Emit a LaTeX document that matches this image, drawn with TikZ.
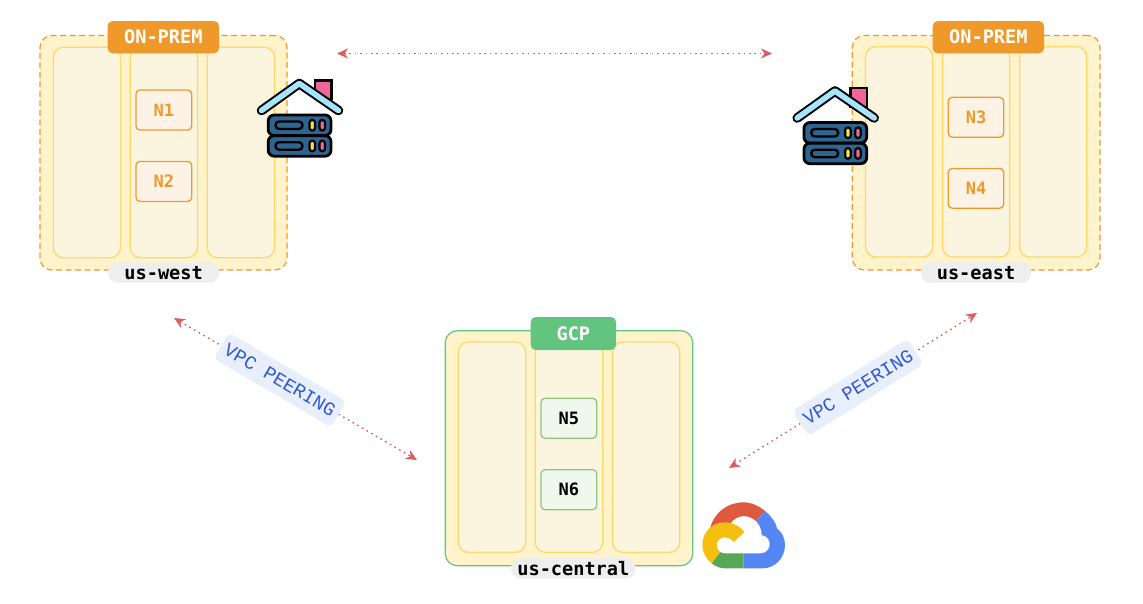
\documentclass[tikz,border=0pt]{standalone}
\usepackage{fontspec}
\usetikzlibrary{arrows.meta}
\setmainfont{DejaVu Sans}
\newfontfamily\monob{DejaVu Sans Mono}[BoldFont={DejaVu Sans Mono Bold}]
\newfontfamily\monot{Liberation Mono}
\definecolor{orangeC}{HTML}{F0992B}
\definecolor{greenC}{HTML}{63C480}
\definecolor{outerfill}{HTML}{FFF3CC}
\definecolor{colfill}{HTML}{FBF5E0}
\definecolor{colline}{HTML}{FFD966}
\definecolor{pill}{HTML}{EEEEEE}
\definecolor{peerline}{HTML}{D8605C}
\definecolor{peerfill}{HTML}{E8EEFB}
\definecolor{peertext}{HTML}{2F5BD0}
\definecolor{srv}{HTML}{2D6490}
\definecolor{roofC}{HTML}{A6E3FD}
\definecolor{pinkC}{HTML}{F2659A}
\definecolor{yelC}{HTML}{F7E34B}
\definecolor{nGline}{HTML}{93C47D}
\definecolor{nGfill}{HTML}{F0F7EC}
\definecolor{nOfill}{HTML}{FCF3E6}
\tikzset{
  bx/.style={rectangle,inner sep=0pt,outer sep=0pt},
  outerdash/.style={bx,draw=orangeC,fill=outerfill,rounded corners=12pt,line width=1.2pt,dash pattern=on 6pt off 3.5pt},
  outersolid/.style={bx,draw=greenC,fill=outerfill,rounded corners=12pt,line width=1.2pt},
  column/.style={bx,draw=colline,fill=colfill,rounded corners=10pt,line width=1.3pt},
  nodeO/.style={bx,draw=orangeC,fill=nOfill,rounded corners=4pt,line width=1.3pt,text=orangeC,font=\monob\bfseries\fontsize{17}{18}\selectfont},
  nodeG/.style={bx,draw=nGline,fill=nGfill,rounded corners=4pt,line width=1.3pt,text=black,font=\monob\bfseries\fontsize{17}{18}\selectfont},
  tagbox/.style={bx,rounded corners=5pt,text=white,font=\monob\bfseries\fontsize{18.6}{20}\selectfont},
  pillbox/.style={bx,fill=pill,rounded corners=10pt,text=black,font=\monob\bfseries\fontsize{18.6}{20}\selectfont},
  peer/.style={draw=peerline,line width=1.4pt,dash pattern=on 1.6pt off 3.8pt,
    {Stealth[length=11pt,width=10pt,inset=3.5pt,fill=peerline]}-{Stealth[length=11pt,width=10pt,inset=3.5pt,fill=peerline]}},
  peerlabel/.style={rectangle,sloped,fill=peerfill,rounded corners=5pt,inner sep=0pt,minimum width=136pt,minimum height=30pt,text=peertext,font=\monot\fontsize{19}{20}\selectfont},
}
\newcommand{\bxt}[7]{\node[#1,minimum width={(#4)-(#2)},minimum height={(#5)-(#3)}] (#6) at ({((#2)+(#4))/2},{((#3)+(#5))/2}) {\vphantom{A}#7};}
\newcommand{\houseicon}[2]{%
  \begin{scope}[shift={(#1,#2)}]
    \draw[fill=pinkC,draw=black,line width=2.6pt] (314.8,100) -- (314.8,80.5) -- (331.2,80.5) -- (331.2,100);
    \draw[black,line width=9.6pt,line cap=round,line join=round] (261.5,110.5) -- (299.3,83.5) -- (338.5,110.5);
    \draw[roofC,line width=5.6pt,line cap=round,line join=round] (261.5,110.5) -- (299.3,83.5) -- (338.5,110.5);
    \foreach \yy in {115,135.7}{
      \draw[fill=srv,draw=black,line width=2.8pt,rounded corners=6pt] (268.2,\yy) rectangle (331,\yy+20.5);
      \draw[fill=srv,draw=black,line width=2.4pt,rounded corners=3.6pt] (275.5,\yy+6.5) rectangle (302.5,\yy+14);
      \draw[fill=yelC,draw=black,line width=2.2pt,rounded corners=2.6pt] (309.5,\yy+5) rectangle (315,\yy+15.5);
      \draw[fill=pinkC,draw=black,line width=2.2pt,rounded corners=2.6pt] (319.5,\yy+5) rectangle (325,\yy+15.5);
    }
  \end{scope}}
\begin{document}
\begin{tikzpicture}[x=1pt,y=-1pt]
\useasboundingbox[fill=white] (0,0) rectangle (1143,603);
% west
\bxt{outerdash}{40}{35.5}{287}{270}{westout}{}
\bxt{column}{53.3}{47.3}{120.5}{257.7}{w1}{}
\bxt{column}{130.3}{47.3}{197.5}{257.7}{w2}{}
\bxt{column}{207.3}{47.3}{274.6}{257.7}{w3}{}
\bxt{nodeO}{136}{90}{191.7}{130}{n1}{N1}
\bxt{nodeO}{136}{161.4}{191.7}{201.4}{n2}{N2}
\bxt{tagbox,fill=orangeC}{107.6}{21}{219}{53.3}{wtag}{ON-PREM}
\bxt{pillbox}{108}{262.3}{219.3}{282.8}{wpill}{us-west}
% east
\bxt{outerdash}{852.3}{35.5}{1100}{270}{eastout}{}
\bxt{column}{865.5}{46.8}{932.7}{257}{e1}{}
\bxt{column}{942.7}{46.8}{1009.7}{257}{e2}{}
\bxt{column}{1019.7}{46.8}{1086.7}{257}{e3}{}
\bxt{nodeO}{948.3}{97.3}{1003.7}{137.2}{n3}{N3}
\bxt{nodeO}{948.3}{168.5}{1003.7}{208.2}{n4}{N4}
\bxt{tagbox,fill=orangeC}{932.7}{21}{1044}{53.3}{etag}{ON-PREM}
\bxt{pillbox}{920.7}{262.3}{1031.3}{282.8}{epill}{us-east}
% central
\bxt{outersolid}{445.3}{330.7}{692.7}{565.7}{cenout}{}
\bxt{column}{458.3}{342}{525.7}{552.3}{c1}{}
\bxt{column}{535.3}{342}{602.7}{552.3}{c2}{}
\bxt{column}{612.7}{342}{679.7}{552.3}{c3}{}
\bxt{nodeG}{541}{398.3}{596.7}{438.3}{n5}{N5}
\bxt{nodeG}{541}{469.7}{596.7}{509.7}{n6}{N6}
\bxt{tagbox,fill=greenC}{530.7}{317}{616}{350}{ctag}{GCP}
\bxt{pillbox}{511}{558}{635.7}{578.7}{cpill}{us-central}
% connectors
\coordinate (tl) at (337,53.5);
\coordinate (tr) at (772,53.5);
\coordinate (wa) at (174,318);
\coordinate (wb) at (417,460);
\coordinate (ea) at (729,468);
\coordinate (eb) at (977,313);
\draw[peer] (tl) -- (tr);
\draw[peer] (wa) -- node[peerlabel,pos=.436] (lw) {VPC PEERING} (wb);
\draw[peer] (ea) -- node[peerlabel,pos=.52] (le) {VPC PEERING} (eb);
% icons
\houseicon{0}{0}
\houseicon{535.7}{7.5}
% Google Cloud
\begin{scope}[shift={(690,490)},x=0.33333pt,y=-0.33333pt]
  \fill[fill={rgb,255:red,221;green,90;blue,63}] (60,115) .. controls (72,68) and (112,37) .. (160,37) .. controls (184,37) and (207,47) .. (226,64) -- (198,93) .. controls (175,72) and (140,73) .. (122,100) -- cycle;
  \fill[fill={rgb,255:red,85;green,134;blue,245}] (226,64) .. controls (246,80) and (259,102) .. (261,115) .. controls (276,128) and (285,143) .. (285,165) .. controls (285,204) and (255,235) .. (218,235) -- (160,235) -- (160,190) -- (212,190) .. controls (245,190) and (250,140) .. (215,135) .. controls (215,118) and (208,102) .. (198,93) -- cycle;
  \fill[fill={rgb,255:red,88;green,167;blue,87}] (160,190) -- (160,235) -- (105,235) .. controls (90,235) and (76,229) .. (65,220) -- (90,186) .. controls (95,189) and (100,190) .. (106,190) -- cycle;
  \fill[fill={rgb,255:red,244;green,191;blue,15}] (65,220) .. controls (48,208) and (37,186) .. (37,164) .. controls (37,125) and (68,97) .. (104,97) .. controls (128,97) and (150,108) .. (163,126) -- (131,156) .. controls (125,147) and (115,142) .. (105,142) .. controls (90,142) and (80,153) .. (80,166) .. controls (80,175) and (84,182) .. (90,186) -- cycle;
\end{scope}
\end{tikzpicture}
\end{document}
